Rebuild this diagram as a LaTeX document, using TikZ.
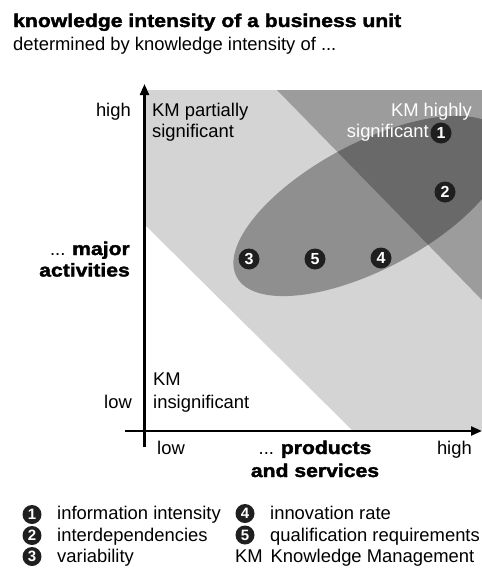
\documentclass[tikz,border=0pt]{standalone}
\usepackage{fontspec}
\setmainfont{Liberation Sans}
\newfontfamily\heavyfont{Liberation Sans Bold}[FakeStretch=1.15,FakeBold=2]
\newfontfamily\numfont{Liberation Sans Bold}
\usetikzlibrary{arrows.meta}
\definecolor{lightband}{gray}{0.83}
\definecolor{darkband}{gray}{0.61}
\definecolor{dotblack}{gray}{0.12}
\definecolor{ellipsecol}{gray}{0}
\begin{document}
\begin{tikzpicture}[x=1pt,y=-1pt,
  txt/.style={inner sep=0pt, font=\fontsize{18.4}{21.5}\selectfont},
  hv/.style={inner sep=0pt, font=\fontsize{18.4}{21.5}\heavyfont},
  dot/.style={circle, fill=dotblack, text=white, inner sep=0pt, minimum size=21pt, font=\fontsize{16}{16}\numfont},
  legdot/.style={circle, fill=dotblack, text=white, inner sep=0pt, minimum size=19pt, font=\fontsize{15}{15}\numfont},
  axis/.style={line width=2.2pt, -{Triangle[length=11pt,width=9pt]}}
]
\useasboundingbox (0,0) rectangle (482,568);

% regions
\begin{scope}
\clip (146,90) rectangle (482,430);
\fill[lightband] (146,90) -- (482,90) -- (482,430) -- (352,430) -- (146,226) -- cycle;
\fill[darkband] (277,90) -- (482,90) -- (482,300) -- cycle;
\fill[ellipsecol, fill opacity=0.32, rotate around={28:(370,206)}] (370,206) ellipse [x radius=151pt, y radius=63pt];
\end{scope}

% axes
\coordinate (ybot) at (144.5,447);
\coordinate (ytop) at (144.5,84);
\coordinate (xleft) at (125,431);
\coordinate (xright) at (482,431);
\draw[axis] (ybot) -- (ytop);
\draw[axis] (xleft) -- (xright);

% title
\node[hv, anchor=base west] (title) at (13,27) {knowledge intensity of a business unit};
\node[txt, anchor=base west] (subtitle) at (13,50) {determined by knowledge intensity of ...};

% y axis labels
\node[txt, anchor=base east] (yhigh) at (131,116.7) {high};
\node[txt, anchor=base east] (ylow) at (132,408) {low};
\node[anchor=base east, inner sep=0pt] (ymajor) at (130,255) {\fontsize{18.4}{21.5}\selectfont ... \heavyfont major};
\node[hv, anchor=base east] (yact) at (130,276.5) {activities};

% x axis labels
\node[txt, anchor=base west] (xlow) at (157,454) {low};
\node[txt, anchor=base east] (xhigh) at (472,454) {high};
\node[anchor=base, inner sep=0pt] (xprod) at (315,454) {\fontsize{18.4}{21.5}\selectfont ... \heavyfont products};
\node[hv, anchor=base] (xserv) at (315,477) {and services};

% region labels
\node[txt, anchor=base west] (kmp1) at (152,116.7) {KM partially};
\node[txt, anchor=base west] (kmp2) at (152,137.5) {significant};
\node[txt, anchor=base west] (kmi1) at (153,385) {KM};
\node[txt, anchor=base west] (kmi2) at (153,408) {insignificant};
\node[txt, anchor=base east, text=white] (kmh1) at (472,116.7) {KM highly};
\node[txt, anchor=base east, text=white] (kmh2) at (429,137.5) {significant};

% numbered dots
\node[dot] (d1) at (441,133) {1};
\node[dot] (d2) at (445,192) {2};
\node[dot] (d3) at (249,259) {3};
\node[dot] (d5) at (315,259) {5};
\node[dot] (d4) at (381,258) {4};

% legend
\node[legdot] (l1) at (32,514.5) {1};
\node[legdot] (l2) at (32,535.5) {2};
\node[legdot] (l3) at (32,556.5) {3};
\node[txt, anchor=base west] (t1) at (57,519.5) {information intensity};
\node[txt, anchor=base west] (t2) at (57,541) {interdependencies};
\node[txt, anchor=base west] (t3) at (57,562.5) {variability};
\node[legdot] (l4) at (245,513.5) {4};
\node[legdot] (l5) at (245,535) {5};
\node[txt, anchor=base west] (t4) at (270,519.5) {innovation rate};
\node[txt, anchor=base west] (t5) at (270,541) {qualification requirements};
\node[txt, anchor=base west] (tkm) at (235,562.5) {KM};
\node[txt, anchor=base west] (tkm2) at (270.5,562.5) {Knowledge Management};
\end{tikzpicture}
\end{document}
